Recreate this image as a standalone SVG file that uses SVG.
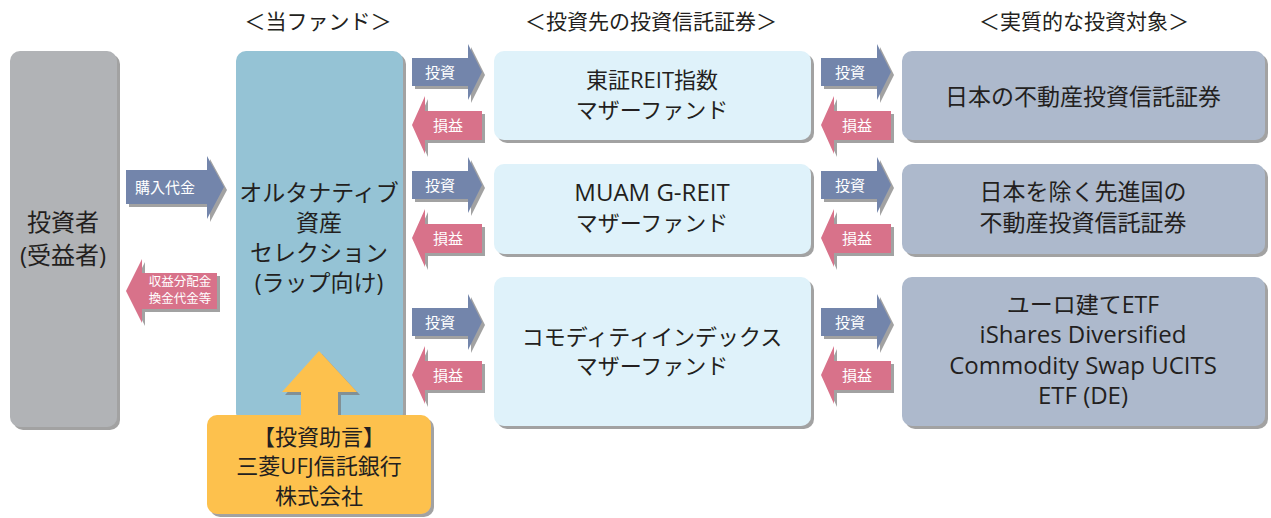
<svg xmlns="http://www.w3.org/2000/svg" xmlns:xlink="http://www.w3.org/1999/xlink" width="1271" height="518" viewBox="0 0 1271 518">
<style>
text{font-family:"Open Sans","Noto Sans CJK JP",sans-serif;fill:#231f20;text-anchor:middle}
.h{font-size:21px}
.t{font-size:22px}
.g{font-size:23px}
.L{font-size:24px}
.inv{font-size:24px}
.lbl{font-size:15px;fill:#ffffff}
.sm{font-size:12.5px;fill:#ffffff}
.blue{fill:#7385ab}
.pink{fill:#d8728a}
.sh{filter:url(#ds)}
</style>
<defs>
<filter id="ds" x="-10%" y="-10%" width="130%" height="130%">
<feDropShadow dx="3" dy="3" stdDeviation="0.6" flood-color="#7a7a7a" flood-opacity="0.7"/>
</filter>
<path id="ra" d="M0,-14 H56 V-28 L70,0 L56,28 V14 H0 Z"/>
<path id="la" d="M0,0 L13,-29 V-14 H70 V15 H13 V29 Z"/>
</defs>

<g id="headers">
<text class="h" x="318" y="29">＜当ファンド＞</text>
<text class="h" x="651" y="29">＜投資先の投資信託証券＞</text>
<text class="h" x="1084" y="29">＜実質的な投資対象＞</text>
</g>

<g id="connectors">
<path class="blue sh" d="M126,170 H207 V156 L224,187 L207,219 V204 H126 Z"/>
<text class="lbl" x="165" y="193">購入代金</text>
<path class="pink sh" d="M126,291 L142,259 V273 H217 V309 H142 V323 Z"/>
<text class="sm" x="180" y="286">収益分配金</text>
<text class="sm" x="180" y="302.5">換金代金等</text>

<use xlink:href="#ra" class="blue sh" transform="translate(412,72)"/>
<use xlink:href="#la" class="pink sh" transform="translate(412,125)"/>
<use xlink:href="#ra" class="blue sh" transform="translate(412,185)"/>
<use xlink:href="#la" class="pink sh" transform="translate(412,238)"/>
<use xlink:href="#ra" class="blue sh" transform="translate(412,322)"/>
<use xlink:href="#la" class="pink sh" transform="translate(412,375)"/>
<text class="lbl" x="440" y="78">投資</text>
<text class="lbl" x="448" y="131">損益</text>
<text class="lbl" x="440" y="191">投資</text>
<text class="lbl" x="448" y="244">損益</text>
<text class="lbl" x="440" y="328">投資</text>
<text class="lbl" x="448" y="381">損益</text>

<use xlink:href="#ra" class="blue sh" transform="translate(821,72)"/>
<use xlink:href="#la" class="pink sh" transform="translate(821,125)"/>
<use xlink:href="#ra" class="blue sh" transform="translate(821,185)"/>
<use xlink:href="#la" class="pink sh" transform="translate(821,238)"/>
<use xlink:href="#ra" class="blue sh" transform="translate(821,322)"/>
<use xlink:href="#la" class="pink sh" transform="translate(821,375)"/>
<text class="lbl" x="850" y="78">投資</text>
<text class="lbl" x="857" y="131">損益</text>
<text class="lbl" x="850" y="191">投資</text>
<text class="lbl" x="857" y="244">損益</text>
<text class="lbl" x="850" y="328">投資</text>
<text class="lbl" x="857" y="381">損益</text>
</g>

<g id="investor">
<rect class="sh" x="10" y="51" width="107" height="376" rx="10" fill="#b1b3b6"/>
<text class="inv" x="63" y="231">投資者</text>
<text class="inv" x="63" y="264">(受益者)</text>
</g>

<g id="fund">
<rect class="sh" x="236" y="51" width="167" height="372" rx="10" fill="#95c3d5"/>
<text class="g" x="319" y="201">オルタナティブ</text>
<text class="g" x="319" y="231">資産</text>
<text class="g" x="319" y="261">セレクション</text>
<text class="g" x="319" y="291">(ラップ向け)</text>
</g>

<g id="mother1">
<rect class="sh" x="494" y="51" width="317" height="89" rx="10" fill="#dff2fa"/>
<text class="t" x="652" y="88">東証REIT指数</text>
<text class="t" x="652" y="118">マザーファンド</text>
</g>
<g id="mother2">
<rect class="sh" x="494" y="164" width="317" height="90" rx="10" fill="#dff2fa"/>
<text class="L" x="652" y="201">MUAM G-REIT</text>
<text class="t" x="652" y="231">マザーファンド</text>
</g>
<g id="mother3">
<rect class="sh" x="494" y="277" width="317" height="149" rx="10" fill="#dff2fa"/>
<text class="t" x="652" y="345">コモディティインデックス</text>
<text class="t" x="652" y="374">マザーファンド</text>
</g>

<g id="target1">
<rect class="sh" x="902" y="51" width="363" height="89" rx="10" fill="#adb9cc"/>
<text class="g" x="1083" y="105">日本の不動産投資信託証券</text>
</g>
<g id="target2">
<rect class="sh" x="902" y="164" width="363" height="90" rx="10" fill="#adb9cc"/>
<text class="g" x="1083" y="200">日本を除く先進国の</text>
<text class="g" x="1083" y="231">不動産投資信託証券</text>
</g>
<g id="target3">
<rect class="sh" x="902" y="277" width="363" height="149" rx="10" fill="#adb9cc"/>
<text class="g" x="1083" y="313">ユーロ建てETF</text>
<text class="L" x="1083" y="343">iShares Diversified</text>
<text class="L" x="1083" y="374">Commodity Swap UCITS</text>
<text class="L" x="1083" y="404">ETF (DE)</text>
</g>

<g id="advisor">
<path class="sh" fill="#fdc14e" d="M319,351 L357,392 H338 V418 H301 V392 H282 Z"/>
<rect class="sh" x="207" y="415" width="224" height="99" rx="10" fill="#fdc14e"/>
<text class="t" x="319" y="445">【投資助言】</text>
<text class="t" x="319" y="474">三菱UFJ信託銀行</text>
<text class="t" x="319" y="504">株式会社</text>
</g>
</svg>
